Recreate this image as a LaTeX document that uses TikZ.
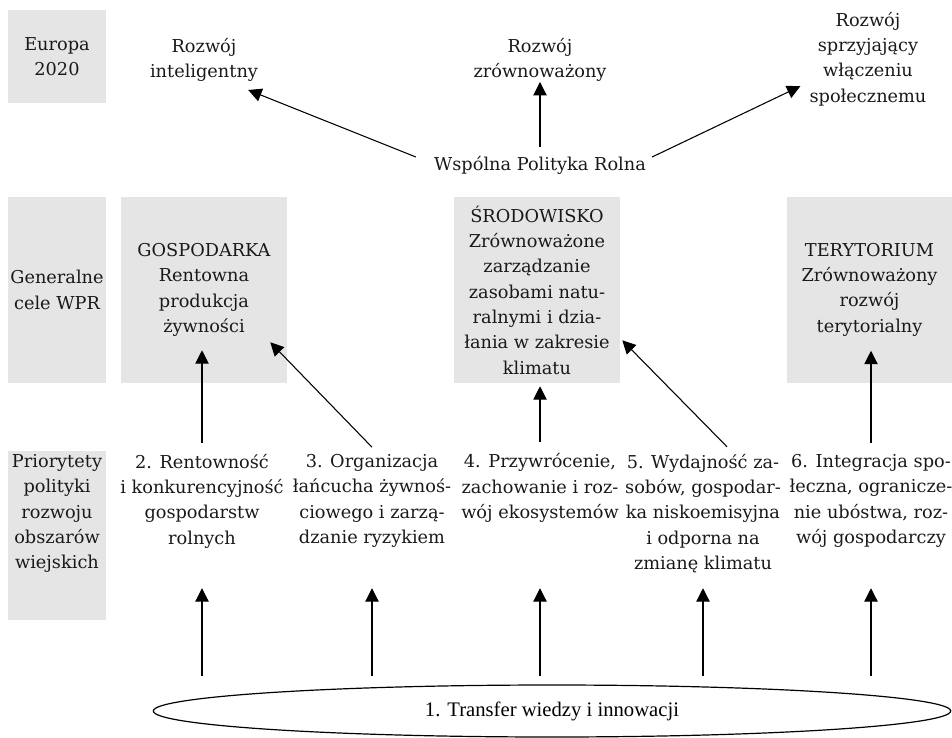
\documentclass[tikz,border=0pt]{standalone}
\usepackage{fontspec}
\setmainfont{DejaVu Serif}
\newfontfamily\timesfont{Liberation Serif}
\usetikzlibrary{arrows.meta,shapes.geometric}
\begin{document}
\begin{tikzpicture}[x=0.75pt,y=-0.75pt,
    txt/.style={align=center,inner sep=0pt,text=black!90,font=\fontsize{13.3}{19}\selectfont},
    greybox/.style={txt,fill=black!10},
    colbox/.style={greybox,minimum width=73.5pt},
    goalbox/.style={greybox,minimum width=124.5pt,minimum height=139.5pt},
    arr/.style={line width=0.8pt,-{Triangle[length=10pt,width=10pt]}}]
\useasboundingbox (0,0) rectangle (952,738);

%Europa 2020 row
\node[colbox,minimum height=69.75pt] (eu) at (57,56.5) {Europa\\2020};
\node[txt] (intel) at (204,60) {Rozwój\\inteligentny};
\node[txt] (zrown) at (540,60) {Rozwój\\zrównoważony};
\node[txt] (spol) at (868,59) {Rozwój\\sprzyjający\\włączeniu\\społecznemu};
\node[txt] (wpr) at (540,165) {Wspólna Polityka Rolna};

%general goals
\node[colbox,minimum height=139.5pt] (gen) at (57,290) {Generalne\\cele WPR};
\node[goalbox] (gosp) at (204,290) {GOSPODARKA\\Rentowna\\produkcja\\żywności};
\node[goalbox] (srod) at (537,290) {ŚRODOWISKO\\Zrównoważone\\zarządzanie\\zasobami natu-\\ralnymi i dzia-\\łania w zakresie\\klimatu};
\node[goalbox,minimum width=123.75pt] (ter) at (869.5,289.5) {TERYTORIUM\\Zrównoważony\\rozwój\\terytorialny};

%priorities
\node[colbox,minimum height=126.75pt] (prio) at (57,535.5) {};
\node[txt] (prioT) at (57,513.5) {Priorytety\\polityki\\rozwoju\\obszarów\\wiejskich};
\node[txt] (p2) at (202,501) {2. Rentowność\\i konkurencyjność\\gospodarstw\\rolnych};
\node[txt] (p3) at (372,501) {3. Organizacja\\łańcucha żywnoś-\\ciowego i zarzą-\\dzanie ryzykiem};
\node[txt] (p4) at (540,488) {4. Przywrócenie,\\zachowanie i roz-\\wój ekosystemów};
\node[txt] (p5) at (703,513.5) {5. Wydajność za-\\sobów, gospodar-\\ka niskoemisyjna\\i odporna na\\zmianę klimatu};
\node[txt] (p6) at (871,501) {6. Integracja spo-\\łeczna, ogranicze-\\nie ubóstwa, roz-\\wój gospodarczy};

\node[draw,ellipse,line width=0.9pt,minimum width=598pt,minimum height=39pt,inner sep=0pt,
      font=\timesfont\fontsize{15.5}{18}\selectfont] (ell) at (552,711) {1. Transfer wiedzy i innowacji};

%arrows to Europa 2020
\draw[arr] ([shift={(-18,-8)}]wpr.west) -- ([shift={(-10,8)}]intel.south east);
\draw[arr] ([shift={(0,-9)}]wpr.north) -- (zrown.south);
\draw[arr] ([shift={(6,-8)}]wpr.east) -- ([shift={(-9,-20)}]spol.south west);

%arrows to the goals
\draw[arr] ([shift={(0,-11)}]p2.north) -- ([shift={(0,-33)}]p2.north |- gosp.south);
\draw[arr] ([shift={(0,-7)}]p3.north) -- ([shift={(-17,-41)}]gosp.south east);
\draw[arr] ([shift={(0,-11)}]p4.north) -- ([shift={(0,3)}]p4.north |- srod.south);
\draw[arr] ([shift={(24,-7)}]p5.north) -- ([shift={(2,-43)}]srod.south east);
\draw[arr] ([shift={(0,-11)}]p6.north) -- ([shift={(0,-32)}]p6.north |- ter.south);

%arrows from the ellipse
\coordinate (tips) at ([shift={(0,15)}]p5.south);
\coordinate (base) at ([shift={(0,-8)}]ell.north);
\foreach \p in {p2,p3,p4,p5,p6}
  \draw[arr] (base -| \p) -- (\p |- tips);
\end{tikzpicture}
\end{document}
